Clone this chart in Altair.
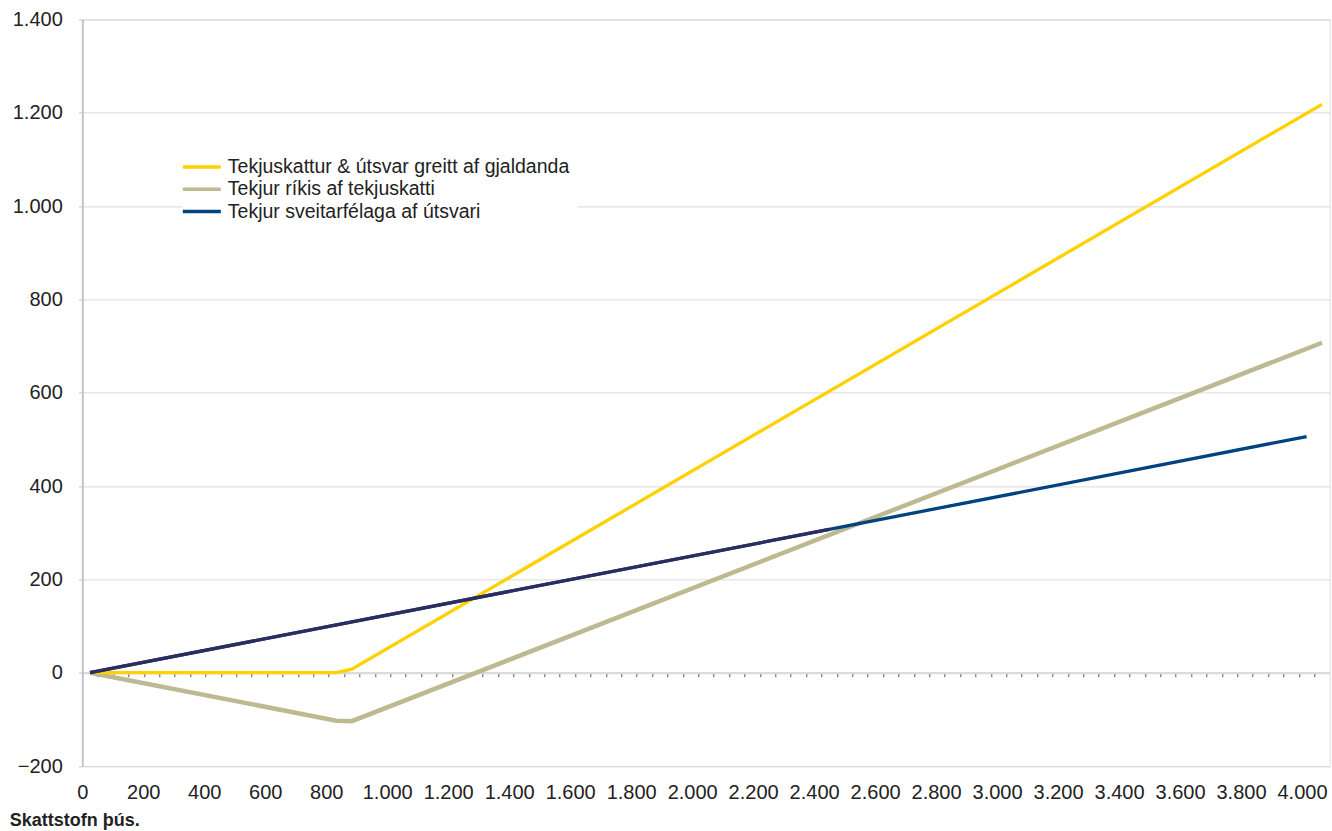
import altair as alt
import pandas as pd

# Series names (legend order)
paid_name = "Tekjuskattur & útsvar greitt af gjaldanda"
state_name = "Tekjur ríkis af tekjuskatti"
muni_name = "Tekjur sveitarfélaga af útsvari"
series_names = [paid_name, state_name, muni_name]
series_colors = ["#FFD100", "#BDBA92", "#01427F"]

# Break points of each line (tax base in thousands -> amount)
paid_x = [0, 800, 850, 4000]
paid_v = [0, 0, 7.5, 1218]

state_x = [0, 800, 850, 4000]
state_v = [0, -103, -104, 707]

muni_x = [0, 2400, 3950]
muni_v = [0, 307, 506]

# Bottom axis labels
x_labels = list(range(0, 4001, 200))
y_ticks = list(range(-200, 1401, 200))

rows = []
for name, xs, vs in [(state_name, state_x, state_v),
                     (paid_name, paid_x, paid_v),
                     (muni_name, muni_x, muni_v)]:
    for x, v in zip(xs, vs):
        rows.append({"series": name, "x": x, "v": v})
df = pd.DataFrame(rows)
df_labels = pd.DataFrame({"lab": x_labels})

FONT = "Liberation Sans"
TEXT = "#222222"
GRID = "#d9d9d9"
NUM_FMT = "replace(format(datum.value, ','), ',', '.')"

# category boundaries every 50, drawn as ticks on the zero line
zero_line_ticks = [25 + 50 * k for k in range(80)]

x_enc = alt.X(
    "x:Q",
    scale=alt.Scale(domain=[-25, 4025], nice=False, zero=False),
    axis=alt.Axis(
        orient="bottom", offset=-93.3, values=zero_line_ticks, labels=False,
        grid=False, title=None, ticks=True, tickSize=4, tickWidth=1,
        tickColor="#555555", domain=True, domainColor=GRID, domainWidth=2,
    ),
)
y_enc = alt.Y(
    "v:Q",
    scale=alt.Scale(domain=[-200, 1400], nice=False, zero=False),
    axis=alt.Axis(
        values=y_ticks, title=None, grid=True, gridColor=GRID, gridWidth=1,
        domain=True, domainColor="#c4c4c4", domainWidth=2,
        ticks=True, tickSize=4, tickColor="#c8c8c8",
        labelFont=FONT, labelFontSize=20, labelColor=TEXT, labelPadding=16,
        labelExpr=NUM_FMT,
    ),
)
# legend swatch: a long horizontal stroke drawn from a small symbol size
color_enc = alt.Color(
    "series:N",
    scale=alt.Scale(domain=series_names, range=series_colors),
    legend=alt.Legend(
        title=None, orient="none", legendX=100, legendY=128,
        direction="vertical", symbolType="M-2,0H2", symbolSize=361,
        symbolStrokeWidth=3.5, labelFont=FONT, labelFontSize=19.5,
        labelColor=TEXT, labelOffset=14.5, fillColor="white", padding=8,
        rowPadding=1.3, labelLimit=700,
    ),
)

base = alt.Chart(df).encode(x=x_enc, y=y_enc, color=color_enc)

state_line = base.transform_filter(alt.datum.series == state_name).mark_line(strokeWidth=4.5)
paid_line = base.transform_filter(alt.datum.series == paid_name).mark_line(strokeWidth=3.3)
muni_line = base.transform_filter(alt.datum.series == muni_name).mark_line(strokeWidth=3.3)
muni_dark = alt.Chart(df).transform_filter(
    (alt.datum.series == muni_name) & (alt.datum.x <= 2400)
).mark_line(strokeWidth=3.3, color="#2E2C5E").encode(x=x_enc, y=y_enc)

lines = alt.layer(state_line, paid_line, muni_line, muni_dark)

label_axis = alt.Chart(df_labels).mark_point(opacity=0).encode(
    x=alt.X(
        "lab:Q",
        scale=alt.Scale(domain=[0, 4090.8], nice=False, zero=False),
        axis=alt.Axis(
            orient="bottom", values=x_labels, grid=False, ticks=False,
            domain=False, labelFont=FONT, labelFontSize=20, labelColor=TEXT,
            labelPadding=16, labelFlush=False, labelOverlap=False,
            labelExpr=NUM_FMT,
            title="Skattstofn þús.", titleFont=FONT, titleFontSize=18,
            titleFontWeight="bold", titleColor=TEXT, titleAnchor="start",
            titleAlign="left", titleBaseline="alphabetic",
            titleX=-73, titleY=59,
        ),
    ),
    y=alt.value(0),
)

chart = alt.layer(lines, label_axis).resolve_scale(x="independent").properties(
    width=1247.4,
    height=746.6,
    autosize=alt.AutoSizeParams(type="none"),
    padding={"left": 82.3, "top": 19.4, "right": 2.3, "bottom": 65},
).configure_view(
    stroke="#d0d0d0", strokeWidth=1.5
).configure(background="white")

chart.save("out.html", embed_options={"renderer": "svg", "actions": False})
